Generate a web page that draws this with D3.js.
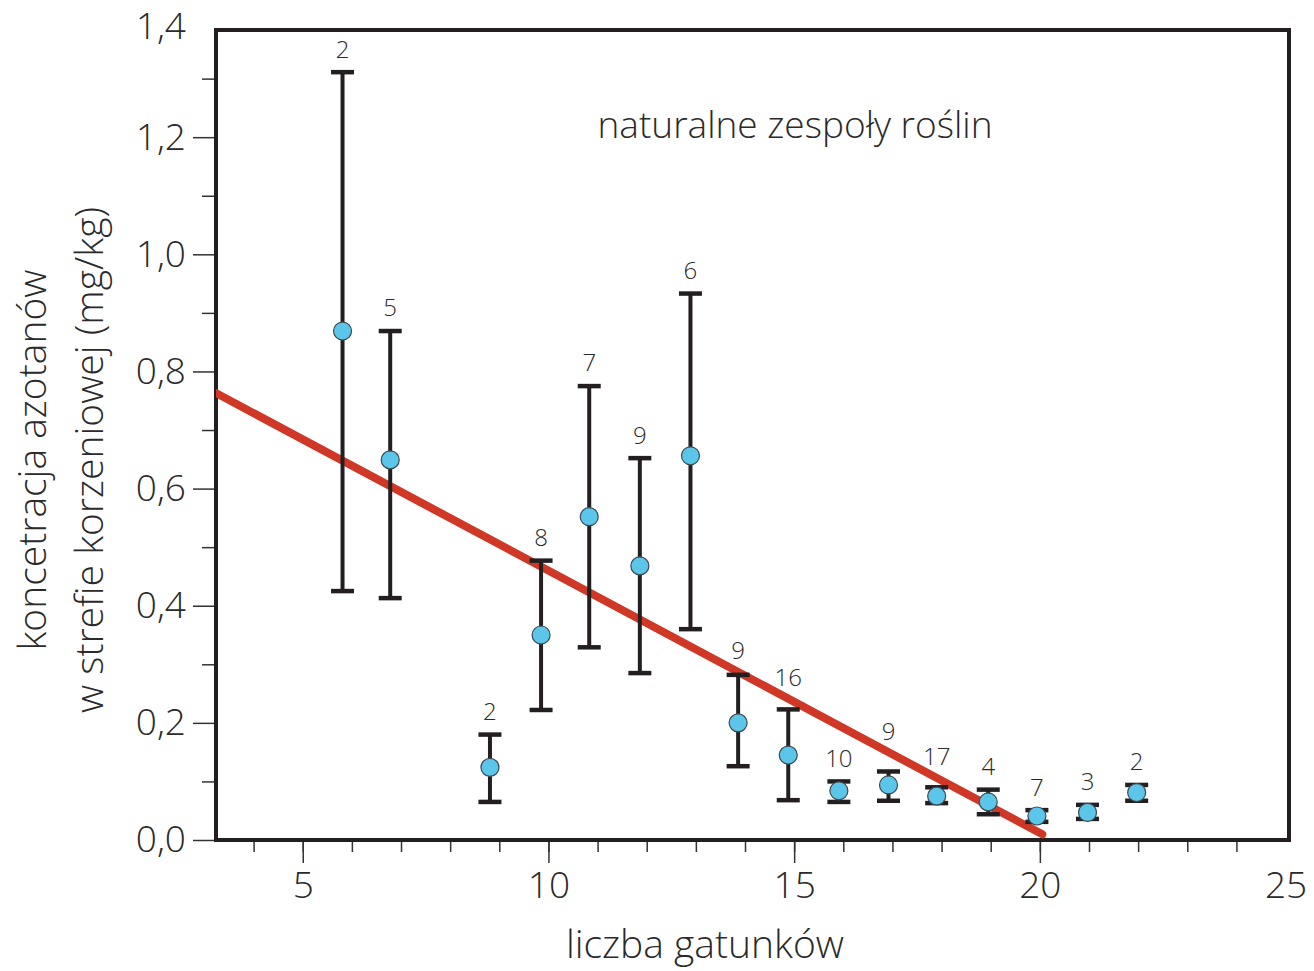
<!DOCTYPE html>
<html>
<head>
<meta charset="utf-8">
<script src="https://cdn.jsdelivr.net/npm/d3@7"></script>
<style>
  body { margin: 0; background: #fff; }
  svg text { font-family: "Open Sans", "Noto Sans", sans-serif; font-weight: 300; fill: #2a2a2a; }
</style>
</head>
<body>
<svg id="chart" width="1314" height="971"></svg>
<script>
// liczba gatunków (x), średnia, górna i dolna granica słupka błędu, liczebność próby
const species = [5.81, 6.78, 8.81, 9.85, 10.83, 11.86, 12.89, 13.86, 14.88, 15.91, 16.92, 17.9, 18.95, 19.94, 20.97, 21.97]
const meanVals = [0.869, 0.649, 0.124, 0.350, 0.552, 0.468, 0.656, 0.200, 0.145, 0.084, 0.094, 0.075, 0.065, 0.041, 0.047, 0.081]
const upperVals = [1.311, 0.869, 0.180, 0.477, 0.775, 0.652, 0.933, 0.282, 0.223, 0.100, 0.117, 0.090, 0.086, 0.051, 0.060, 0.094]
const lowerVals = [0.425, 0.413, 0.065, 0.222, 0.329, 0.285, 0.360, 0.126, 0.068, 0.065, 0.067, 0.063, 0.044, 0.031, 0.036, 0.067]
const nVals = [2, 5, 2, 8, 7, 9, 6, 9, 16, 10, 9, 17, 4, 7, 3, 2]

// linia regresji
const trendIntercept = 0.908
const trendSlope = -0.0448
const trendRange = [3.24, 20.05]

// ticki
const xMajor = [5, 10, 15, 20, 25]
const xMinor = d3.range(4, 25)
const yMajor = [0, 0.2, 0.4, 0.6, 0.8, 1.0, 1.2, 1.4]
const yMinor = [0.1, 0.3, 0.5, 0.7, 0.9, 1.1, 1.3]

const svg = d3.select('#chart')
const pLeft = 216, pRight = 1289, pTop = 30, pBottom = 840

const x = d3.scaleLinear().domain([3.235, 25.07]).range([pLeft, pRight])
const y = d3.scaleLinear().domain([0, 1.383]).range([pBottom, pTop])
const fmt = d => d3.format('.1f')(d).replace('.', ',')
const trendAt = v => trendIntercept + trendSlope * v

const ink = '#231f20'

// osie - drobne ticki
svg.append('g')
    .attr('transform', `translate(0,${pBottom})`)
    .call(d3.axisBottom(x).tickValues(xMinor).tickSize(12).tickFormat(''))
    .call(g => g.select('.domain').remove())
    .call(g => g.selectAll('line').attr('stroke', '#333').attr('stroke-width', 1.5))

svg.append('g')
    .attr('transform', `translate(0,${pBottom})`)
    .call(d3.axisBottom(x).tickValues(xMajor).tickSize(23).tickPadding(9))
    .call(g => g.select('.domain').remove())
    .call(g => g.selectAll('line').attr('stroke', '#333').attr('stroke-width', 1.5)
        .filter(d => d === 25).remove())
    .call(g => g.selectAll('text').attr('font-size', 37).style('fill', '#2a2a2a'))

svg.append('g')
    .attr('transform', `translate(${pLeft},0)`)
    .call(d3.axisLeft(y).tickValues(yMinor).tickSize(14).tickFormat(''))
    .call(g => g.select('.domain').remove())
    .call(g => g.selectAll('line').attr('stroke', '#333').attr('stroke-width', 1.5))

svg.append('g')
    .attr('transform', `translate(${pLeft},0)`)
    .call(d3.axisLeft(y).tickValues(yMajor).tickSize(23).tickPadding(7).tickFormat(fmt))
    .call(g => g.select('.domain').remove())
    .call(g => g.selectAll('line').attr('stroke', '#333').attr('stroke-width', 1.5)
        .filter(d => d === 1.4).remove())
    .call(g => g.selectAll('text').attr('font-size', 37).style('fill', '#2a2a2a'))
    .call(g => g.selectAll('.tick').filter(d => d === 1.4).select('text').attr('y', 7))

// ramka
svg.append('rect')
    .attr('x', pLeft).attr('y', pTop)
    .attr('width', pRight - pLeft).attr('height', pBottom - pTop)
    .attr('fill', 'none').attr('stroke', ink).attr('stroke-width', 4)

svg.append('clipPath').attr('id', 'plotClip')
    .append('rect').attr('x', pLeft).attr('y', pTop - 20)
    .attr('width', pRight - pLeft + 20).attr('height', pBottom - pTop + 40)

// linia trendu
const trend = trendRange.map(v => [v, trendAt(v)])
svg.append('path')
    .datum(trend)
    .attr('d', d3.line().x(d => x(d[0])).y(d => y(d[1])))
    .attr('stroke', '#cf3826')
    .attr('stroke-width', 8)
    .attr('stroke-linecap', 'round')
    .attr('fill', 'none')
    .attr('clip-path', 'url(#plotClip)')

const data = species.map((s, i) => ({
    x: s, mean: meanVals[i], hi: upperVals[i], lo: lowerVals[i], n: nVals[i]
}))

// słupki błędów
const bars = svg.append('g').selectAll('g')
    .data(data)
    .join('g')

bars.append('line')
    .attr('x1', d => x(d.x)).attr('x2', d => x(d.x))
    .attr('y1', d => y(d.hi)).attr('y2', d => y(d.lo))
    .attr('stroke', ink).attr('stroke-width', 4)

bars.selectAll('.cap')
    .data(d => [[d.x, d.hi], [d.x, d.lo]])
    .join('line')
    .attr('class', 'cap')
    .attr('x1', d => x(d[0]) - 11.5).attr('x2', d => x(d[0]) + 11.5)
    .attr('y1', d => y(d[1])).attr('y2', d => y(d[1]))
    .attr('stroke', ink).attr('stroke-width', 4.5)

bars.append('circle')
    .attr('cx', d => x(d.x)).attr('cy', d => y(d.mean))
    .attr('r', 9)
    .attr('fill', '#5bc5ea')
    .attr('stroke', '#3d4a50').attr('stroke-width', 1.2)

// liczebności nad słupkami, odsunięte od linii trendu gdy na nią wchodzą
bars.append('text')
    .attr('x', d => x(d.x))
    .attr('y', d => {
        const capY = y(d.hi) - 23
        const lineY = y(trendAt(d.x))
        return Math.abs(capY - lineY) < 25 ? Math.min(capY, lineY - 21) : capY
    })
    .attr('dy', '0.35em')
    .attr('text-anchor', 'middle')
    .attr('font-size', 24)
    .text(d => d.n)

// podpisy
svg.append('text')
    .attr('x', 795).attr('y', 138)
    .attr('text-anchor', 'middle')
    .attr('font-size', 37)
    .text('naturalne zespoły roślin')

svg.append('text')
    .attr('x', 705).attr('y', 958)
    .attr('text-anchor', 'middle')
    .attr('font-size', 39)
    .text('liczba gatunków')

const yTitle = svg.append('text')
    .attr('transform', 'translate(0,460) rotate(-90)')
    .attr('text-anchor', 'middle')
    .attr('font-size', 39)
yTitle.append('tspan').attr('x', 0).attr('y', 46).text('koncetracja azotanów')
yTitle.append('tspan').attr('x', 0).attr('y', 103).text('w strefie korzeniowej (mg/kg)')
</script>
</body>
</html>
